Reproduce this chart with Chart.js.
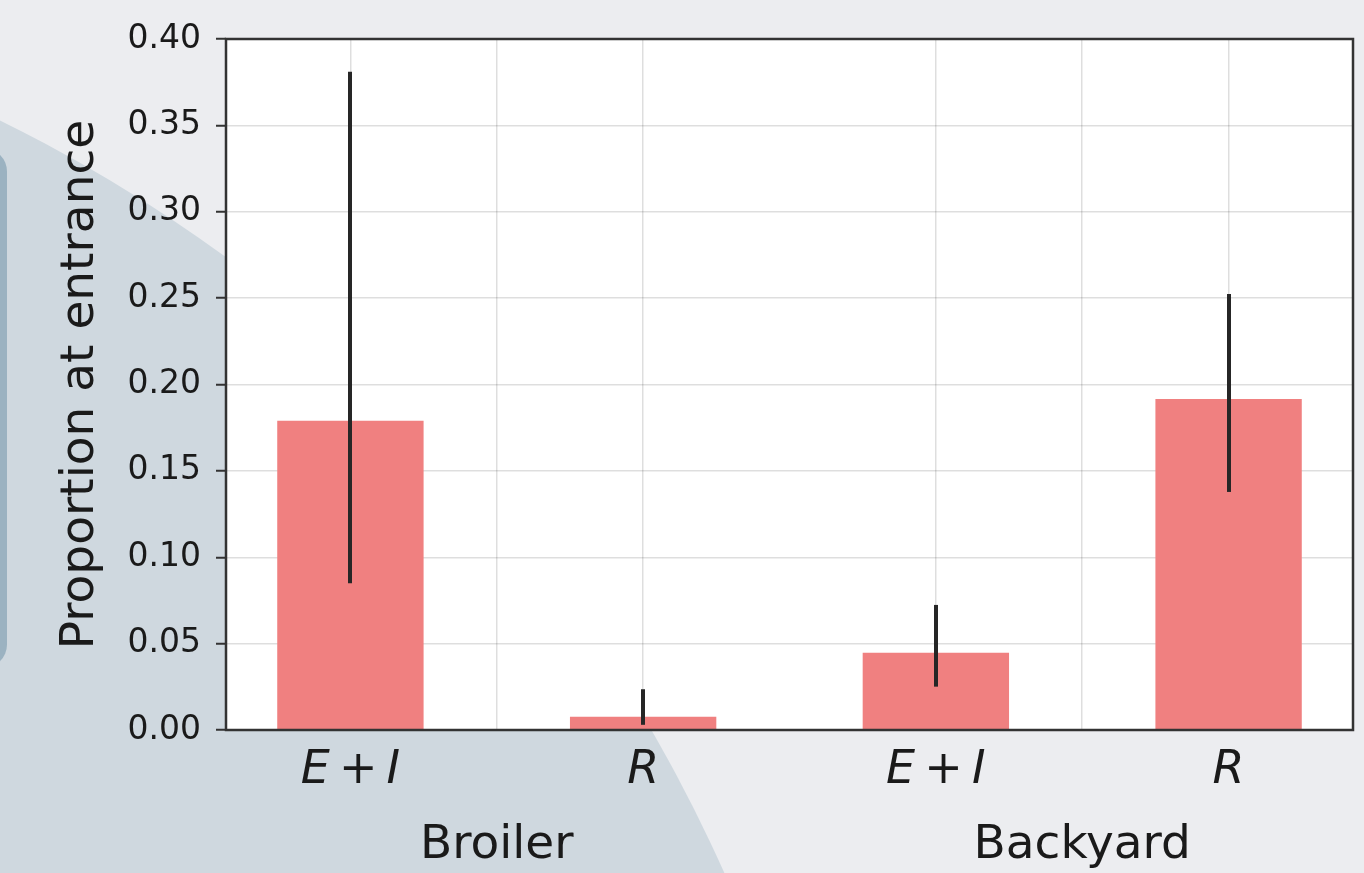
<!DOCTYPE html>
<html>
<head>
<meta charset="utf-8">
<title>Proportion at entrance</title>
<script src="https://cdn.jsdelivr.net/npm/chart.js@4"></script>
<style>
  html, body { margin: 0; padding: 0; }
  body {
    width: 1364px;
    height: 873px;
    overflow: hidden;
    position: relative;
    background: #ecedf0;
  }
  /* decorative backdrop behind the figure */
  .backdrop-circle {
    position: absolute;
    left: -2218px;
    top: -38px;
    width: 3076px;
    height: 3076px;
    border-radius: 50%;
    background: #cfd8df;
  }
  .backdrop-tab {
    position: absolute;
    left: -40px;
    top: 148px;
    width: 47px;
    height: 520px;
    border-radius: 40px;
    background: #9bb2c1;
  }
  .chart-wrap {
    position: absolute;
    left: 0;
    top: 0;
    width: 1364px;
    height: 873px;
  }
</style>
</head>
<body>
<div class="backdrop-circle"></div>
<div class="backdrop-tab"></div>
<div class="chart-wrap"><canvas id="entranceChart"></canvas></div>

<script>
// Compartment proportions at farm entrance, per production type
const categories = ['E\u2009+\u2009I', 'R', 'E\u2009+\u2009I', 'R'];
const barPositions = [0, 1, 2, 3];
const groups = ['Broiler', 'Backyard'];
const groupPositions = [0.5, 2.5];
const proportions = [0.179, 0.0077, 0.0447, 0.1916];
const ciLower = [0.085, 0.003, 0.0251, 0.1378];
const ciUpper = [0.381, 0.0236, 0.0724, 0.2524];
const yTicks = [0.00, 0.05, 0.10, 0.15, 0.20, 0.25, 0.30, 0.35, 0.40];

const fontFamily = "'DejaVu Sans', sans-serif";
const textColor = '#1a1a1a';
const gridColor = 'rgba(0, 0, 0, 0.13)';

// White plot background, error bars on top of everything, and the axes box
const plotFrame = {
    id: 'plotFrame',
    beforeDraw(chart) {
        const { ctx, chartArea: a } = chart;
        ctx.save();
        ctx.fillStyle = '#ffffff';
        ctx.fillRect(a.left, a.top, a.right - a.left, a.bottom - a.top);
        ctx.restore();
    },
    afterDraw(chart) {
        const { ctx, chartArea: a } = chart;
        const xs = chart.scales.x;
        const ys = chart.scales.y;

        ctx.save();
        ctx.strokeStyle = '#262626';
        ctx.lineWidth = 4;
        ctx.lineCap = 'butt';
        barPositions.forEach(function(pos, i) {
            const px = Math.round(xs.getPixelForValue(pos));
            ctx.beginPath();
            ctx.moveTo(px, ys.getPixelForValue(ciLower[i]));
            ctx.lineTo(px, ys.getPixelForValue(ciUpper[i]));
            ctx.stroke();
        });

        ctx.strokeStyle = '#333333';
        ctx.lineWidth = 2.5;
        ctx.strokeRect(a.left, a.top, a.right - a.left, a.bottom - a.top);
        ctx.restore();
    }
};

document.addEventListener('DOMContentLoaded', function() {
    const ctx = document.getElementById('entranceChart').getContext('2d');

    new Chart(ctx, {
        type: 'bar',
        data: {
            datasets: [{
                data: barPositions.map(function(x, i) {
                    return { x: x, y: proportions[i] };
                }),
                backgroundColor: '#F08080',
                borderWidth: 0,
                categoryPercentage: 1,
                barPercentage: 0.5
            }]
        },
        options: {
            responsive: true,
            maintainAspectRatio: false,
            animation: false,
            layout: {
                padding: { left: 0, top: 39, right: 11, bottom: 0 }
            },
            plugins: {
                legend: { display: false },
                tooltip: { enabled: false }
            },
            scales: {
                x: {
                    type: 'linear',
                    position: 'bottom',
                    min: -0.425,
                    max: 3.425,
                    offset: false,
                    weight: 0,
                    z: 1,
                    afterBuildTicks: function(scale) {
                        scale.ticks = barPositions.map(function(v) { return { value: v }; });
                    },
                    afterFit: function(scale) { scale.height = 78; },
                    grid: { color: gridColor, lineWidth: 1.5, drawTicks: false, offset: false },
                    border: { display: false },
                    ticks: {
                        padding: 13,
                        autoSkip: false,
                        maxRotation: 0,
                        color: textColor,
                        font: { family: fontFamily, size: 46, style: 'italic' },
                        callback: function(value, index) { return categories[index]; }
                    }
                },
                x2: {
                    type: 'linear',
                    axis: 'x',
                    position: 'bottom',
                    min: -0.425,
                    max: 3.425,
                    offset: false,
                    weight: 1,
                    z: 1,
                    afterBuildTicks: function(scale) {
                        scale.ticks = groupPositions.map(function(v) { return { value: v }; });
                    },
                    afterFit: function(scale) { scale.height = 65; },
                    grid: { color: gridColor, lineWidth: 1.5, drawTicks: false, offset: false },
                    border: { display: false },
                    ticks: {
                        padding: 10,
                        autoSkip: false,
                        maxRotation: 0,
                        color: textColor,
                        font: { family: fontFamily, size: 47 },
                        callback: function(value, index) { return groups[index]; }
                    }
                },
                y: {
                    min: 0,
                    max: 0.4,
                    z: 1,
                    afterBuildTicks: function(scale) {
                        scale.ticks = yTicks.map(function(v) { return { value: v }; });
                    },
                    afterFit: function(scale) { scale.width = 226; },
                    grid: {
                        color: gridColor,
                        lineWidth: 1.5,
                        drawTicks: true,
                        tickLength: 10,
                        tickColor: '#333333',
                        tickWidth: 2
                    },
                    border: { display: false },
                    ticks: {
                        padding: 15,
                        autoSkip: false,
                        color: textColor,
                        font: { family: fontFamily, size: 33 },
                        callback: function(value) { return value.toFixed(2); }
                    },
                    title: {
                        display: true,
                        text: 'Proportion at entrance',
                        color: textColor,
                        font: { family: fontFamily, size: 47 },
                        padding: { top: 53, bottom: 0 }
                    }
                }
            }
        },
        plugins: [plotFrame]
    });
});
</script>
</body>
</html>
